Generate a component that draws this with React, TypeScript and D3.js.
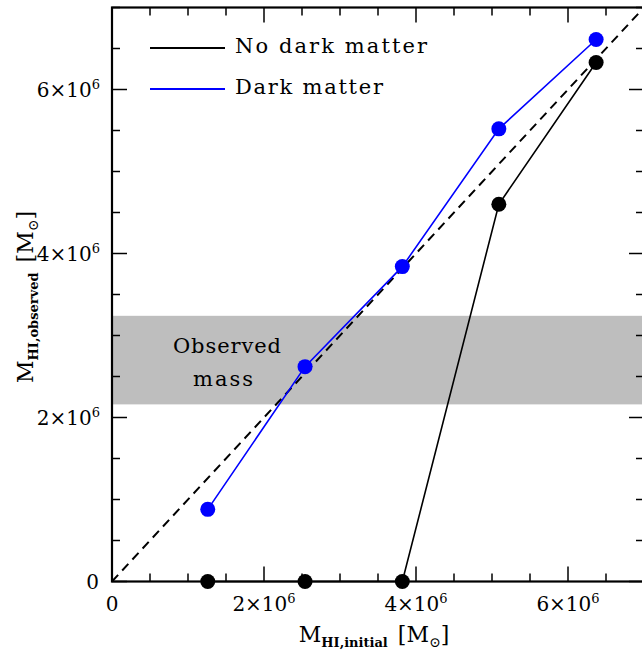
import * as d3 from 'd3'

// values
const massInitial = [1.26e6, 2.54e6, 3.82e6, 5.09e6, 6.37e6]
const noDarkMatter = [0, 0, 0, 4.6e6, 6.33e6]
const darkMatter = [0.88e6, 2.62e6, 3.84e6, 5.52e6, 6.61e6]
const observedBand = [2.16e6, 3.24e6]
const majorTicks = [0, 2e6, 4e6, 6e6]
const tickLabels = ['0', '2', '4', '6']
const legendLabels = ['No dark matter', 'Dark matter']

const W = 642
const H = 650
const left = 112
const right = 644
const top = 7.5
const bottom = 581.5
const font = '"DejaVu Serif", serif'

const x = d3.scaleLinear().domain([0, 7e6]).range([left, right])
const y = d3.scaleLinear().domain([0, 7e6]).range([bottom, top])

const minorX = d3.range(0, 7e6 + 1, 5e5).filter((v) => !majorTicks.includes(v))
const minorY = minorX

const line = d3
  .line<number>()
  .x((_, i) => x(massInitial[i]))

const TickLabel = ({ i }: { i: number }) =>
  i === 0 ? (
    <>{tickLabels[i]}</>
  ) : (
    <>
      <tspan>{tickLabels[i]}×10</tspan>
      <tspan fontSize={13} dy={-8}>6</tspan>
    </>
  )

export default function App() {
  const noDmPath = line.y((d) => y(d))(noDarkMatter) ?? ''
  const dmPath = line.y((d) => y(d))(darkMatter) ?? ''
  const legend = [
    { label: legendLabels[0], color: '#000' },
    { label: legendLabels[1], color: '#0000ff' },
  ]

  return (
    <svg
      width={W}
      height={H}
      style={{ position: 'absolute', left: 0, top: 0, background: '#fff' }}
      fontFamily={font}
    >
      {/* observed mass band */}
      <rect
        x={left}
        y={y(observedBand[1])}
        width={right - left}
        height={y(observedBand[0]) - y(observedBand[1])}
        fill="#bebebe"
      />
      <text textAnchor="middle" fontSize={21} fill="#000">
        <tspan x={227} y={353} textLength={108} lengthAdjust="spacing">Observed</tspan>
        <tspan x={223} y={386} textLength={60} lengthAdjust="spacing">mass</tspan>
      </text>

      {/* one-to-one line */}
      <line
        x1={x(0)}
        y1={y(0)}
        x2={x(7e6)}
        y2={y(7e6)}
        stroke="#000"
        strokeWidth={2}
        strokeDasharray="9,6"
      />

      <path d={noDmPath} fill="none" stroke="#000" strokeWidth={1.6} />
      <path d={dmPath} fill="none" stroke="#0000ff" strokeWidth={1.6} />
      {massInitial.map((m, i) => (
        <circle key={'k' + i} cx={x(m)} cy={y(noDarkMatter[i])} r={7.5} fill="#000" />
      ))}
      {massInitial.map((m, i) => (
        <circle key={'b' + i} cx={x(m)} cy={y(darkMatter[i])} r={7.5} fill="#0000ff" />
      ))}

      {/* legend */}
      {legend.map((l, i) => (
        <g key={l.label}>
          <line x1={150} x2={225} y1={48 + i * 41} y2={48 + i * 41} stroke={l.color} strokeWidth={2} />
          <text
            x={235}
            y={53 + i * 41}
            fontSize={21}
            textLength={i === 0 ? 192 : 148}
            lengthAdjust="spacing"
          >
            {l.label}
          </text>
        </g>
      ))}

      {/* ticks on all four sides */}
      <g stroke="#000" strokeWidth={1.5}>
        {majorTicks.map((t) => (
          <g key={'mx' + t}>
            <line x1={x(t)} x2={x(t)} y1={bottom} y2={bottom - 15} />
            <line x1={x(t)} x2={x(t)} y1={top} y2={top + 15} />
            <line y1={y(t)} y2={y(t)} x1={left} x2={left + 15} />
            <line y1={y(t)} y2={y(t)} x1={right} x2={right - 15} />
          </g>
        ))}
        {minorX.map((t) => (
          <g key={'nx' + t}>
            <line x1={x(t)} x2={x(t)} y1={bottom} y2={bottom - 8} />
            <line x1={x(t)} x2={x(t)} y1={top} y2={top + 8} />
          </g>
        ))}
        {minorY.map((t) => (
          <g key={'ny' + t}>
            <line y1={y(t)} y2={y(t)} x1={left} x2={left + 8} />
            <line y1={y(t)} y2={y(t)} x1={right} x2={right - 8} />
          </g>
        ))}
      </g>
      <rect x={left} y={top} width={right - left} height={bottom - top} fill="none" stroke="#000" strokeWidth={2.2} />

      {/* tick labels */}
      {majorTicks.map((t, i) => (
        <text key={'lx' + t} x={x(t)} y={611} textAnchor="middle" fontSize={20}>
          <TickLabel i={i} />
        </text>
      ))}
      {majorTicks.map((t, i) => (
        <text key={'ly' + t} x={i === 0 ? 99 : 100} y={y(t) + 7} textAnchor="end" fontSize={20}>
          <TickLabel i={i} />
        </text>
      ))}

      {/* axis titles */}
      <text x={374} y={642} textAnchor="middle" fontSize={22}>
        <tspan>M</tspan>
        <tspan fontSize={13} fontWeight="bold" dy={5}>HI,initial</tspan>
        <tspan dx={10} dy={-5}>[M</tspan>
        <tspan fontSize={14} dy={5}>⊙</tspan>
        <tspan dy={-5}>]</tspan>
      </text>
      <text transform="translate(33,297) rotate(-90)" textAnchor="middle" fontSize={22}>
        <tspan>M</tspan>
        <tspan fontSize={13} fontWeight="bold" dy={5}>HI,observed</tspan>
        <tspan dx={10} dy={-5}>[M</tspan>
        <tspan fontSize={14} dy={5}>⊙</tspan>
        <tspan dy={-5}>]</tspan>
      </text>
    </svg>
  )
}
